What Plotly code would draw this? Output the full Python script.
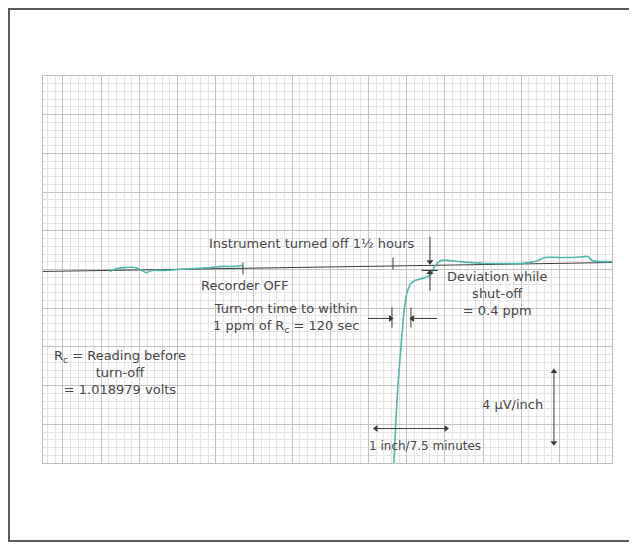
import plotly.graph_objects as go

# ---- data (x: minutes along chart, y: microvolts relative to reading Rc) ----
ref_x = [-1.96, 53.9]
ref_y = [-0.10, 0.36]

before_x = [4.61, 5.30, 6.09, 7.07, 7.76, 8.15, 8.74, 10.01, 11.29, 12.96, 14.43, 15.61, 16.59, 17.67]
before_y = [-0.10, 0.05, 0.10, 0.10, -0.05, -0.16, -0.05, -0.05, 0.00, 0.05, 0.10, 0.16, 0.16, 0.21]

after_x = [32.49, 32.69, 32.89, 33.08, 33.28, 33.48, 33.67, 33.87, 34.16, 34.56, 35.24, 35.83,
           36.13, 36.42, 36.72, 37.11, 37.80, 38.78, 39.96, 41.43, 42.90, 44.86, 46.34, 47.32,
           48.79, 50.26, 51.54, 51.93, 52.72, 53.90]
after_y = [-10.0, -7.75, -5.94, -4.65, -3.36, -2.17, -1.45, -1.03, -0.72, -0.57, -0.47, -0.36,
           -0.26, 0.10, 0.31, 0.47, 0.47, 0.41, 0.36, 0.31, 0.31, 0.31, 0.41, 0.62,
           0.62, 0.62, 0.67, 0.47, 0.41, 0.41]

recorder_off_x = 17.67
instrument_off_x = 32.40

TEAL = "#4fb8ad"
INK = "#474747"
LINE = "#3a3a3a"
FONT = "DejaVu Sans"

fig = go.Figure()
fig.add_trace(go.Scatter(x=ref_x, y=ref_y, mode="lines",
                         line=dict(color=LINE, width=1), hoverinfo="skip"))
fig.add_trace(go.Scatter(x=before_x, y=before_y, mode="lines",
                         line=dict(color=TEAL, width=1.6, shape="spline"), hoverinfo="skip"))
fig.add_trace(go.Scatter(x=after_x, y=after_y, mode="lines",
                         line=dict(color=TEAL, width=1.6, shape="spline", smoothing=0.6), hoverinfo="skip"))

shapes = []
def seg(x0, y0, x1, y1, w=1, c=LINE):
    shapes.append(dict(type="line", xref="x", yref="y", x0=x0, y0=y0, x1=x1, y1=y1,
                       line=dict(color=c, width=w)))

# tick marks on reference line
seg(recorder_off_x, 0.36, recorder_off_x, -0.26)
seg(instrument_off_x, 0.62, instrument_off_x, 0.0)
# turn-on time brackets
seg(32.30, -1.96, 32.30, -3.0)
seg(34.16, -1.96, 34.16, -3.0)
# deviation bracket
seg(35.2, -0.05, 36.8, -0.05)
# outer frame
shapes.append(dict(type="rect", xref="paper", yref="paper", x0=-0.0598, y0=-0.2016,
                   x1=1.0404, y1=1.173, line=dict(color="#5a5a5a", width=2), layer="below"))

# arrows: shaft (shape) + head (triangle marker)
head_x, head_y, head_sym = [], [], []
def arrow(x, y, ax, ay, both=False):
    seg(ax, ay, x, y)
    def add(hx, hy, fx, fy):
        if abs(hx - fx) > abs(hy - fy) * 0.5:
            sym = "triangle-right" if hx > fx else "triangle-left"
        else:
            sym = "triangle-up" if hy > fy else "triangle-down"
        head_x.append(hx); head_y.append(hy); head_sym.append(sym)
    add(x, y, ax, ay)
    if both:
        add(ax, ay, x, y)

arrow(36.03, 0.40, 36.03, 1.7)
arrow(36.03, -0.15, 36.03, -1.1)
arrow(32.15, -2.53, 29.94, -2.53)
arrow(34.31, -2.53, 36.72, -2.53)
arrow(37.6, -8.22, 30.73, -8.22, both=True)
arrow(48.2, -8.95, 48.2, -5.27, both=True)

fig.add_trace(go.Scatter(x=head_x, y=head_y, mode="markers", hoverinfo="skip",
                         marker=dict(symbol=head_sym, size=6, color=LINE, line=dict(width=0))))

annotations = []
def txt(x, y, s, size=13):
    annotations.append(dict(x=x, y=y, xref="x", yref="y", text=s, showarrow=False,
                            font=dict(family=FONT, size=size, color=INK), align="center"))

txt(24.4, 1.35, "Instrument turned off 1½ hours")
txt(17.9, -0.82, "Recorder OFF")
txt(21.9, -2.5, "Turn-on time to within<br>1 ppm of R<sub>c</sub> = 120 sec")
txt(42.6, -1.25, "Deviation while<br>shut-off<br>= 0.4 ppm")
txt(5.6, -5.3, "R<sub>c</sub> = Reading before<br>turn-off<br>= 1.018979 volts")
txt(44.1, -7.0, "4 μV/inch")
txt(35.5, -9.1, "1 inch/7.5 minutes", size=12)

axis_common = dict(showticklabels=False, zeroline=False, ticks="",
                   showline=True, mirror=True, linecolor="#bdbdbd", linewidth=1)
fig.update_layout(
    width=629, height=536, autosize=False,
    margin=dict(l=35, r=25, t=68, b=81),
    paper_bgcolor="white", plot_bgcolor="white", showlegend=False,
    shapes=shapes, annotations=annotations,
    xaxis=dict(range=[-1.96, 53.9], tick0=0, dtick=3.75, gridcolor="#c2c2c2", gridwidth=1,
               minor=dict(tick0=0, dtick=0.75, showgrid=True, gridcolor="#e4e4e4", gridwidth=1),
               **axis_common),
    yaxis=dict(range=[-10, 10], tick0=0, dtick=2, gridcolor="#c2c2c2", gridwidth=1,
               minor=dict(tick0=0, dtick=0.4, showgrid=True, gridcolor="#e4e4e4", gridwidth=1),
               **axis_common),
)
fig.write_html("out.html")
